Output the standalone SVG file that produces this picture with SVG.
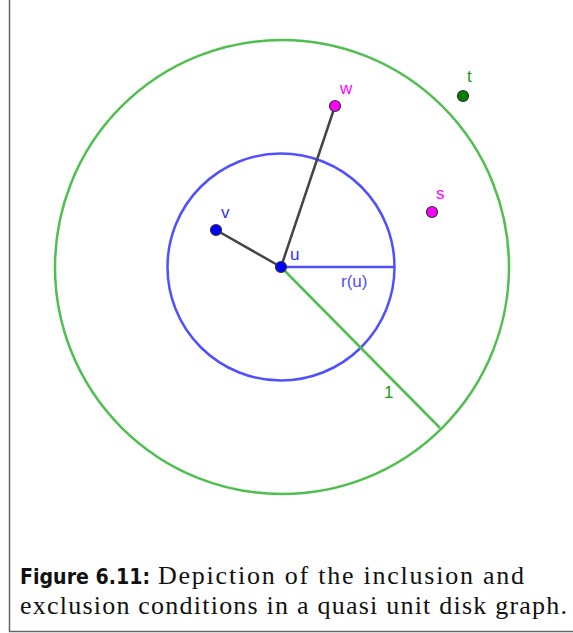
<svg xmlns="http://www.w3.org/2000/svg" width="573" height="633" viewBox="0 0 573 633">
<style>
.lbl{font-family:"Liberation Sans",Arial,sans-serif;font-size:17px}
.pt{stroke:#333;stroke-width:1.2}
.cap{font-family:"Liberation Serif","Times New Roman",serif;font-size:26px;fill:#111}
.capb{font-family:"DejaVu Sans","Liberation Sans",sans-serif;font-size:21px;font-weight:bold;fill:#111}
</style>
<rect width="573" height="633" fill="#fff"/>
<path d="M9.5,0 V631.5 H573" fill="none" stroke="#666" stroke-width="1.5"/>
<g id="circles">
<circle id="unit-circle" cx="282" cy="267" r="227" fill="none" stroke="#4fbf4f" stroke-width="2.5"/>
<circle id="r-circle" cx="281" cy="267" r="113.5" fill="none" stroke="#5050ff" stroke-width="2.5"/>
</g>
<g id="connectors">
<line x1="281" y1="267" x2="440" y2="428" stroke="#4fbf4f" stroke-width="2.5"/>
<line x1="281" y1="267" x2="395" y2="267" stroke="#5050ff" stroke-width="2.5"/>
<line x1="281" y1="267" x2="216" y2="230" stroke="#444" stroke-width="2.5"/>
<line x1="281" y1="267" x2="335" y2="106" stroke="#444" stroke-width="2.5"/>
</g>
<g id="label-r"><text class="lbl" x="341" y="287" fill="#5050ff">r(u)</text></g>
<g id="label-1"><text class="lbl" x="384" y="398" fill="#1a9a1a">1</text></g>
<g id="u"><circle class="pt" cx="281" cy="267" r="5.5" fill="#0000ff"/><text class="lbl" x="290" y="260" fill="#3030ff">u</text></g>
<g id="v"><circle class="pt" cx="216" cy="230" r="5.5" fill="#0000ff"/><text class="lbl" x="221" y="218" fill="#3030ff">v</text></g>
<g id="w"><circle class="pt" cx="335" cy="106" r="5.5" fill="#ff00ff"/><text class="lbl" x="340" y="94" fill="#ff00ff">w</text></g>
<g id="s"><circle class="pt" cx="432" cy="212" r="5.5" fill="#ff00ff"/><text class="lbl" x="436" y="199" fill="#ff00ff">s</text></g>
<g id="t"><circle class="pt" cx="463" cy="96" r="5.5" fill="#008000"/><text class="lbl" x="467" y="82" fill="#1a9a1a">t</text></g>
<g id="caption">
<text class="capb" x="20" y="584" textLength="130" lengthAdjust="spacingAndGlyphs">Figure 6.11:</text>
<text class="cap" x="158" y="584" textLength="366">Depiction of the inclusion and</text>
<text class="cap" x="20" y="614" textLength="547">exclusion conditions in a quasi unit disk graph.</text>
</g>
</svg>
